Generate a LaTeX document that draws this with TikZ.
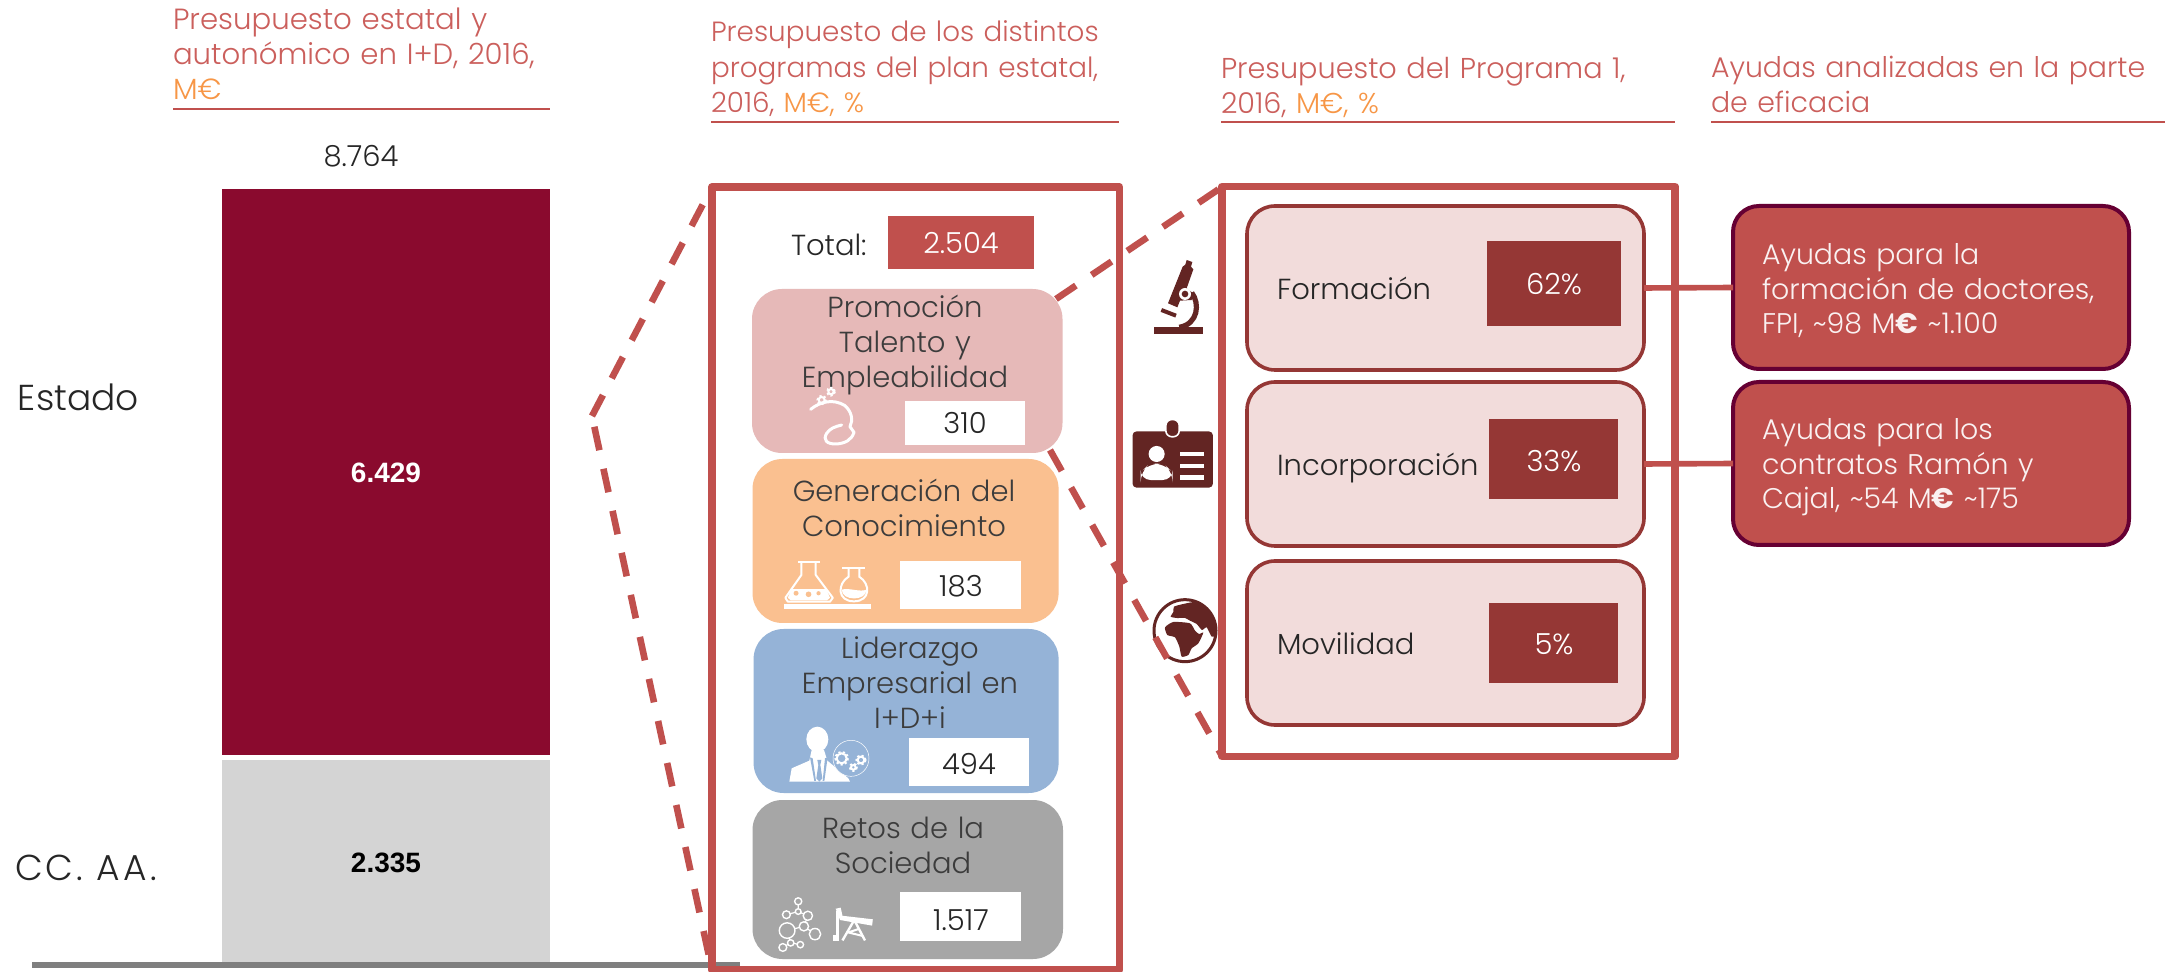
\documentclass[tikz,border=0pt]{standalone}
\usepackage{fontspec}
\setmainfont{Poppins Light}
\newfontfamily\pbold{Poppins}
\newfontfamily\arialf{Liberation Sans}
\usetikzlibrary{calc}
\definecolor{redbox}{HTML}{C0504D}
\definecolor{redtitle}{HTML}{CB5F5C}
\definecolor{orangetxt}{HTML}{F79646}
\definecolor{wine}{HTML}{8A0A2E}
\definecolor{lightbar}{HTML}{D4D4D4}
\definecolor{axisgray}{HTML}{7F7F7F}
\definecolor{pinkbox}{HTML}{E6B9B8}
\definecolor{peachbox}{HTML}{FAC090}
\definecolor{bluebox}{HTML}{95B3D7}
\definecolor{greybox}{HTML}{A6A6A6}
\definecolor{palebox}{HTML}{F2DCDB}
\definecolor{darkred}{HTML}{953735}
\definecolor{icondark}{HTML}{632523}
\definecolor{plum}{HTML}{660033}
\definecolor{txt}{HTML}{262626}
\newcommand\rectnode[7]{\node[#1,minimum width={(#5-#3)*0.5pt},minimum height={(#6-#4)*0.5pt}] (#2) at ({(#3+#5)/2},{(#4+#6)/2}) {#7};}
\tikzset{
  base/.style={inner sep=0pt,outer sep=0pt,rectangle},
  bar/.style={base,font=\arialf\bfseries\fontsize{14}{16}\selectfont},
  plain/.style={base,fill=#1},
  prog/.style={base,fill=#1,rounded corners=15pt},
  sub/.style={base,fill=palebox,draw=darkred,line width=1.8pt,rounded corners=14pt},
  aid/.style={base,fill=redbox,draw=plum,line width=2pt,rounded corners=13pt},
  frame/.style={base,draw=redbox,line width=3.9pt,line join=round},
  dashline/.style={draw=redbox,line width=3.3pt,dash pattern=on 12pt off 9.5pt},
  link/.style={draw=redbox,line width=2.8pt},
  rulel/.style={draw=redbox,line width=1pt},
  title/.style={inner sep=0pt,outer sep=0pt,anchor=base west,text width=#1,align=left,text=redtitle,yshift=-0.7pt},
  lab/.style={inner sep=0pt,outer sep=0pt,anchor=base,text=txt,yshift=-0.2pt,font=\fontsize{14.5}{17.5}\selectfont},
  proglab/.style={lab,text=txt!90,text width=160pt,align=center},
  sublab/.style={lab,anchor=base west},
  val/.style={lab,text=white},
  aidlab/.style={inner sep=0pt,outer sep=0pt,anchor=base west,text=white!92!redbox,text width=185pt,align=left,yshift=-0.2pt,font=\fontsize{14.2}{17.4}\selectfont},
  wl/.style={draw=white,line width=1pt,fill=none},
}
\newcommand\eur{{\pbold\bfseries €}}
\begin{document}
\begin{tikzpicture}[x=0.5pt,y=-0.5pt]
\useasboundingbox (0,0) rectangle (2180,972);
\fill[white] (0,0) rectangle (2180,972);

% titles
\node[title=200pt,font=\fontsize{14.6}{17.5}\selectfont] (t1) at (173,28) {Presupuesto estatal y\\autonómico en I+D, 2016,\\\textcolor{orangetxt}{M€}};
\node[title=210pt,font=\fontsize{13.9}{17.7}\selectfont] (t2) at (711,40.5) {Presupuesto de los distintos\\programas del plan estatal,\\2016, \textcolor{orangetxt}{M€, \%}};
\node[title=230pt,font=\fontsize{14.35}{17.6}\selectfont] (t3) at (1221,77) {Presupuesto del Programa 1,\\2016, \textcolor{orangetxt}{M€, \%}};
\node[title=230pt,font=\fontsize{14.2}{17.5}\selectfont] (t4) at (1711,76) {Ayudas analizadas en la parte\\de eficacia};
\coordinate (r1a) at (173,109); \coordinate (r1b) at (550,109);
\coordinate (r2a) at (711,122); \coordinate (r2b) at (1119,122);
\coordinate (r3a) at (1221,122); \coordinate (r3b) at (1675,122);
\coordinate (r4a) at (1711,122); \coordinate (r4b) at (2165,122);
\draw[rulel] (r1a) -- (r1b);
\draw[rulel] (r2a) -- (r2b);
\draw[rulel] (r3a) -- (r3b);
\draw[rulel] (r4a) -- (r4b);

% stacked bar
\node[lab] (total1) at (361,166) {8.764};
\rectnode{bar,fill=wine,text=white}{bar1}{222}{191}{550}{755}{6.429}
\fill[wine] (222,189) rectangle (550,192);
\rectnode{bar,fill=lightbar,text=black}{bar2}{222}{764}{550}{962}{2.335}
\fill[lightbar] (222,760) rectangle (550,765);
\node[lab,anchor=base west,font=\fontsize{18}{20}\selectfont] (estado) at (18,410) {Estado};
\node[lab,anchor=base west,font=\fontsize{18}{20}\selectfont] (ccaa) at (15,880) {\addfontfeature{LetterSpace=9}CC. AA.};
\rectnode{plain=axisgray}{axis}{32}{962}{740}{968}{}

% dashes from the bar, then programme frame
\coordinate (fr2nw) at (712,187);
\coordinate (fr2sw) at (712,970);
\coordinate (apex) at (592,416);
\draw[dashline,dash phase=11.5pt] (fr2nw) -- (apex);
\draw[dashline,dash phase=16pt] (apex) -- (fr2sw);
\rectnode{frame}{fr2}{712}{187}{1119.5}{970}{}

% total
\node[lab,anchor=base west] (totlab) at (791,255) {Total:};
\rectnode{plain=redbox}{totbox}{888}{216}{1034}{269}{}
\node[val] (totval) at (961,253) {2.504};

% icons beside frame 3
\begin{scope}[shift={(1140,250)},x=0.5pt/3,y=-0.5pt/3]
  % microscope
  \fill[icondark] (42,232) rectangle (190,252);
  \fill[icondark] (128,50) -- (136,44) -- (140,30) -- (157,36) -- (153,50) -- (160,58) -- (140,115) -- (160,130) -- (155,150) -- (120,152) -- (112,172) -- (84,160) -- cycle;
  \draw[icondark,line width=2pt] (64,180) -- (108,197);
  \draw[icondark,line width=2.6pt] (155,128) .. controls (180,160) and (175,222) .. (118,232);
  \fill[white] (135,132) circle (18);
  \fill[icondark] (135,132) circle (10);
\end{scope}
\begin{scope}[shift={(1100,170)},x=0.5pt/2.613,y=-0.5pt/2.613]
  % badge
  \fill[icondark,rounded corners=2pt] (85,683) rectangle (295,830);
  \fill[icondark,draw=white,line width=.8pt,rounded corners=3pt] (172,652) rectangle (207,697);
  \fill[white] (148,742) circle (21);
  \fill[white,rounded corners=5pt] (106,810) -- (106,790) -- (130,767) -- (166,767) -- (190,790) -- (190,810) -- cycle;
  \fill[white] (210,736) rectangle (273,747);
  \fill[white] (210,767) rectangle (273,778);
  \fill[white] (210,798) rectangle (273,809);
\end{scope}
\begin{scope}[shift={(1140,590)},x=0.5pt/3,y=-0.5pt/3]
  % globe
  \draw[icondark,fill=white,line width=1.5pt] (135,122) circle (93);
  \fill[icondark] plot[smooth cycle,tension=.35] coordinates {(102,50) (130,42) (170,36) (205,62) (226,95) (228,135) (215,140) (200,112) (186,120) (170,102) (150,92) (135,84) (110,84) (92,80) (100,66)};
  \fill[icondark] plot[smooth cycle,tension=.35] coordinates {(75,112) (100,96) (150,100) (165,122) (177,132) (190,128) (175,160) (155,175) (145,195) (125,200) (118,170) (105,142) (82,135)};
\end{scope}

% dashes to frame 3
\coordinate (f3nw) at (1222,187);
\coordinate (f3sw) at (1222,756);
\coordinate (pc1) at (1056,299);
\coordinate (pc2) at (1050,450);
\draw[dashline] (pc1) -- (f3nw);
\draw[dashline] (pc2) -- (f3sw);

% frame 3
\rectnode{frame}{fr3}{1222}{186.5}{1675}{756.5}{}

% programme cards
\rectnode{prog=pinkbox}{promo}{752}{289}{1062.5}{453}{}
\rectnode{prog=peachbox}{gener}{752.5}{459}{1058.6}{623}{}
\rectnode{prog=bluebox}{lider}{753.6}{629}{1058.6}{793}{}
\rectnode{prog=greybox}{retos}{752.5}{800}{1063}{959}{}
\node[proglab] (promolab) at (905,317) {Promoción\\Talento y\\Empleabilidad};
\node[proglab] (generlab) at (904,501) {Generación del\\Conocimiento};
\node[proglab] (liderlab) at (910,658) {Liderazgo\\Empresarial en\\I+D+i};
\node[proglab] (retoslab) at (903,838) {Retos de la\\Sociedad};
\rectnode{plain=white}{promov}{904.6}{401}{1024.6}{445}{}
\rectnode{plain=white}{generv}{900}{561}{1021}{609}{}
\rectnode{plain=white}{liderv}{909}{738}{1029}{786}{}
\rectnode{plain=white}{retosv}{900}{892}{1021}{941}{}
\node[lab] (promon) at (965,433) {310};
\node[lab] (genern) at (961,596) {183};
\node[lab] (lidern) at (969,774) {494};
\node[lab] (retosn) at (961,930) {1.517};

% card icons (zoom 2 coordinates)
\begin{scope}[shift={(680,420)},x=0.5pt/2.8,y=-0.5pt/2.84]
  % flasks
  \fill[white] (291,523) rectangle (535,537);
  \draw[wl] (330,404) -- (392,404);
  \draw[wl,line join=round] (340,404) -- (340,440) -- (295,505) -- (302,516) -- (420,516) -- (428,505) -- (380,440) -- (380,404);
  \fill[white] (312,480) -- (410,480) -- (420,505) -- (412,512) -- (310,512) -- (302,505) -- cycle;
  \fill[peachbox] (325,492) circle (7) (360,495) circle (8) (388,492) circle (6);
  \draw[wl] (455,420) -- (517,420);
  \draw[wl] (472,420) -- (472,445) .. controls (440,465) and (440,515) .. (487,515) .. controls (534,515) and (534,465) .. (502,445) -- (502,420);
  \fill[white] (453,482) .. controls (470,475) and (505,490) .. (522,482) .. controls (522,515) and (453,515) .. (453,482) -- cycle;
  % network
  \draw[wl,line width=.6pt] (331,1367) -- (331,1396) -- (298,1405);
  \draw[wl,line width=.6pt] (331,1396) -- (358,1408) -- (347,1438) -- (300,1450) -- (310,1485) -- (288,1498);
  \draw[wl,line width=.6pt] (347,1438) -- (378,1460);
  \draw[wl,line width=.6pt] (310,1485) -- (337,1490);
  \foreach \nx/\ny/\nr in {331/1367/10,298/1405/11,358/1408/13,331/1396/8,300/1450/22,347/1438/13,378/1460/16,288/1498/11,310/1485/9,337/1490/9}{
    \draw[white,line width=.7pt,fill=greybox] (\nx,\ny) circle (\nr);
  }
  % pump
  \fill[white] (428,1463) rectangle (445,1480);
  \draw[white,line width=1.1pt] (441,1395) -- (441,1465);
  \fill[white] (436,1388) -- (450,1385) -- (455,1408) -- (540,1418) -- (538,1436) -- (448,1420) -- cycle;
  \draw[white,line width=1.2pt] (455,1478) -- (488,1420) -- (518,1478);
  \draw[white,line width=1pt] (472,1455) -- (502,1445) (470,1455) -- (510,1465);
\end{scope}

% businessman
\begin{scope}[shift={(780,730)},x=0.5pt/3,y=-0.5pt/3]
  \fill[white] (112,28) ellipse (33 and 38);
  \fill[white] (28,155) -- (35,115) -- (88,92) -- (95,60) -- (132,60) -- (142,92) -- (170,115) -- (205,145) -- (210,155) -- cycle;
  \fill[bluebox] (90,82) -- (98,85) -- (108,153) -- (103,153) -- cycle;
  \fill[bluebox] (143,82) -- (135,85) -- (128,153) -- (133,153) -- cycle;
  \fill[bluebox] (112,90) -- (124,90) -- (121,105) -- (127,145) -- (118,155) -- (109,145) -- (115,105) -- cycle;
  \fill[bluebox] (213,85) circle (54);
  \draw[white,line width=.25pt] (213,85) circle (54);
  \foreach \gx/\gy/\gr in {185/85/15,243/90/10,220/112/7}{
    \draw[white,line width=1pt] (\gx,\gy) circle (\gr);
    \draw[white,line width=.9pt,dash pattern=on 1.1pt off 1.1pt] (\gx,\gy) circle ({\gr+4});
  }
\end{scope}

% head icon
\begin{scope}[shift={(790,375)},x=0.5pt/3,y=-0.5pt/3]
  \draw[white,line width=1.5pt,line join=round,line cap=round] (62,103) .. controls (90,80) and (130,70) .. (165,92) .. controls (185,110) and (190,135) .. (180,155) -- (192,172) .. controls (185,195) and (165,205) .. (140,207) .. controls (110,208) and (98,195) .. (110,175) .. controls (120,160) and (135,155) .. (155,150);
  \foreach \gx/\gy/\gr in {95/75/9,123/50/8}{
    \draw[white,line width=1pt] (\gx,\gy) circle (\gr);
    \draw[white,line width=.9pt,dash pattern=on 1.1pt off 1.1pt] (\gx,\gy) circle ({\gr+4});
  }
\end{scope}

% sub-cards of frame 3
\rectnode{sub}{form}{1247}{206}{1644}{370}{}
\rectnode{sub}{inco}{1247}{382}{1644}{546}{}
\rectnode{sub}{movi}{1247}{561}{1644}{725}{}
\rectnode{plain=darkred}{formv}{1487}{241}{1621}{326}{}
\rectnode{plain=darkred}{incov}{1489}{419}{1618}{499}{}
\rectnode{plain=darkred}{moviv}{1489}{603}{1618}{683}{}
\node[sublab] (formlab) at (1277,299) {Formación};
\node[sublab] (incolab) at (1277,475) {Incorporación};
\node[sublab] (movilab) at (1277,654) {Movilidad};
\node[val] (formp) at (1554,294) {62\%};
\node[val] (incop) at (1554,471) {33\%};
\node[val] (movip) at (1554,654) {5\%};

% aid boxes
\rectnode{aid}{aid1}{1733}{206}{2129}{369}{}
\rectnode{aid}{aid2}{1733}{382}{2129}{545}{}
\node[aidlab] (aid1lab) at (1762,264) {Ayudas para la\\formación de doctores,\\FPI, \textasciitilde98 M\eur{} \textasciitilde1.100};
\node[aidlab] (aid2lab) at (1762,439) {Ayudas para los\\contratos Ramón y\\Cajal, \textasciitilde54 M\eur{} \textasciitilde175};
\draw[link] (form.east) -- (aid1.west);
\draw[link] (inco.east) -- (aid2.west);
\end{tikzpicture}
\end{document}
